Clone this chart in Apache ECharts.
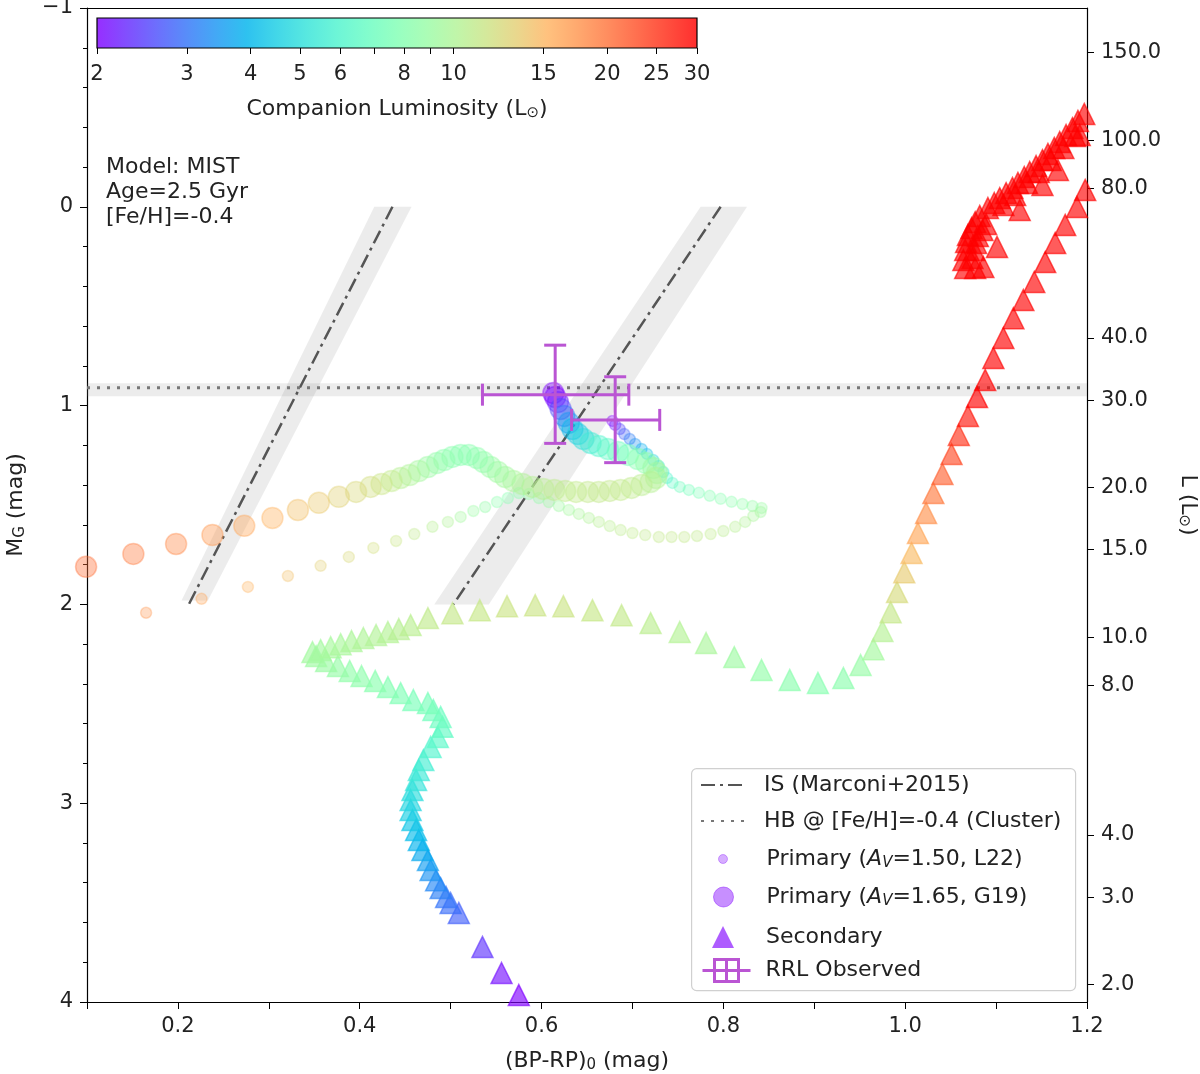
<!DOCTYPE html>
<html>
<head>
<meta charset="utf-8">
<script src="https://cdn.jsdelivr.net/npm/echarts@6/dist/echarts.min.js"></script>
<style>
  html, body { margin: 0; background: #fff; }
  #chart { width: 1200px; height: 1074px; }
</style>
</head>
<body>
<div id="chart"></div>
<script>
// colour bar / right axis ticks
const colorTicks = [2, 3, 4, 5, 6, 7, 8, 9, 10, 15, 20, 25, 30];
const colorLabels = [2, 3, 4, 5, 6, 8, 10, 15, 20, 25, 30];
const lumTicks = [150, 100, 80, 40, 30, 20, 15, 10, 8, 4, 3, 2];
const lumMin = 2, lumMax = 30;
const magZero = 4.665; // M_G = magZero - 2.5 log10(L)

// instability strip (Marconi+2015) and HB level
const isBlueEdge = [[0.436, 0.0], [0.212, 2.0]];
const isRedEdge = [[0.797, 0.0], [0.503, 2.0]];
const isBands = [
  [[0.416, 0.0], [0.457, 0.0], [0.233, 1.98], [0.204, 1.98]],
  [[0.775, 0.0], [0.826, 0.0], [0.542, 2.0], [0.482, 2.0]]
];
const hbMag = 0.91;
const hbBand = [0.888, 0.953];

// observed RR Lyrae: x, M, xlo, xhi, Mlo, Mhi
const rrlObserved = [
  [0.615, 0.945, 0.535, 0.696, 0.696, 1.190],
  [0.681, 1.072, 0.633, 0.730, 0.855, 1.287]
];

// primary, A_V=1.65 (G19): colour, M_G, companion L
const primaryG19 = [
  [0.613,0.937,2.0],[0.615,0.957,2.0],[0.618,0.982,2.2],[0.621,1.017,2.6],[0.625,1.052,3.0],
  [0.630,1.087,3.5],[0.634,1.118,4.0],[0.640,1.143,4.5],[0.646,1.168,5.0],[0.654,1.188,5.5],
  [0.663,1.203,6.0],[0.673,1.218,6.5],[0.684,1.233,7.0],[0.695,1.248,7.5],[0.706,1.269,8.0],
  [0.715,1.289,8.5],[0.723,1.314,9.0],[0.727,1.339,9.5],[0.726,1.364,10.0],[0.720,1.384,10.4],
  [0.710,1.399,10.7],[0.699,1.414,10.9],[0.687,1.424,11.0],[0.675,1.429,11.1],[0.663,1.434,11.1],
  [0.651,1.434,11.1],[0.638,1.434,11.0],[0.626,1.429,10.9],[0.614,1.424,10.8],[0.602,1.419,10.6],
  [0.590,1.409,10.4],[0.579,1.394,10.1],[0.569,1.379,9.8],[0.560,1.359,9.5],[0.552,1.334,9.2],
  [0.544,1.309,8.9],[0.536,1.284,8.6],[0.529,1.264,8.4],[0.520,1.248,8.2],[0.511,1.248,8.1],
  [0.502,1.258,8.2],[0.493,1.274,8.3],[0.485,1.289,8.6],[0.475,1.309,9.0],[0.465,1.329,9.5],
  [0.455,1.349,10.0],[0.445,1.364,10.4],[0.435,1.379,11.0],[0.424,1.394,11.5],[0.412,1.409,12.0],
  [0.396,1.434,12.5],[0.377,1.459,13.0],[0.355,1.489,13.6],[0.332,1.525,14.3],[0.304,1.565,15.2],
  [0.273,1.605,16.2],[0.238,1.651,17.3],[0.198,1.696,18.3],[0.151,1.746,19.2],[0.099,1.811,20.0]
];

// primary, A_V=1.50 (L22)
const primaryL22 = [
  [0.678,1.077,2.0],[0.681,1.097,2.2],[0.686,1.118,2.5],[0.691,1.143,2.8],[0.697,1.168,3.1],
  [0.703,1.193,3.4],[0.710,1.218,3.8],[0.716,1.243,4.2],[0.723,1.274,4.6],[0.729,1.304,5.0],
  [0.734,1.334,5.5],[0.738,1.364,6.0],[0.744,1.389,6.5],[0.752,1.409,7.0],[0.762,1.424,7.3],
  [0.773,1.439,7.6],[0.785,1.454,7.9],[0.797,1.469,8.1],[0.809,1.484,8.3],[0.821,1.495,8.5],
  [0.832,1.505,8.7],[0.842,1.515,8.9],[0.841,1.535,9.3],[0.833,1.555,9.7],[0.824,1.585,10.1],
  [0.813,1.610,10.4],[0.800,1.631,10.7],[0.786,1.646,10.9],[0.771,1.656,11.0],[0.757,1.661,11.1],
  [0.743,1.661,11.1],[0.729,1.661,11.1],[0.714,1.651,11.0],[0.700,1.641,10.9],[0.687,1.626,10.8],
  [0.675,1.606,10.6],[0.663,1.585,10.4],[0.652,1.565,10.1],[0.641,1.545,9.8],[0.630,1.525,9.5],
  [0.619,1.505,9.2],[0.608,1.485,8.9],[0.597,1.465,8.6],[0.586,1.445,8.4],[0.575,1.440,8.2],
  [0.563,1.465,8.1],[0.551,1.485,8.3],[0.538,1.510,8.6],[0.525,1.530,9.0],[0.511,1.560,9.5],
  [0.497,1.585,10.0],[0.480,1.610,10.4],[0.460,1.646,11.0],[0.440,1.681,11.5],[0.415,1.716,12.0],
  [0.388,1.761,12.5],[0.357,1.806,13.2],[0.321,1.857,14.3],[0.277,1.912,15.3],[0.226,1.972,16.3],
  [0.165,2.042,17.5]
];

// secondary track: colour, M_G
const secondary = [
  [0.575,3.965],[0.556,3.854],[0.535,3.723],[0.509,3.552],
  [0.500,3.502],[0.495,3.472],[0.489,3.427],[0.484,3.387],[0.478,3.336],[0.475,3.286],
  [0.469,3.235],[0.465,3.185],[0.462,3.135],[0.458,3.085],[0.456,3.034],[0.456,2.984],
  [0.458,2.934],[0.462,2.883],[0.465,2.833],[0.470,2.783],[0.478,2.717],[0.486,2.667],
  [0.491,2.616],[0.489,2.566],[0.481,2.531],[0.475,2.496],[0.459,2.481],[0.445,2.446],
  [0.431,2.416],[0.417,2.385],[0.402,2.360],[0.389,2.335],[0.376,2.310],[0.363,2.285],
  [0.352,2.260],[0.348,2.240],
  [0.357,2.230],[0.368,2.215],[0.379,2.200],[0.391,2.184],[0.404,2.169],[0.418,2.154],
  [0.431,2.139],[0.443,2.124],[0.456,2.104],[0.475,2.069],[0.502,2.044],[0.532,2.029],
  [0.562,2.009],[0.593,2.004],[0.624,2.009],[0.656,2.029],[0.688,2.054],[0.720,2.094],
  [0.752,2.139],[0.781,2.194],[0.812,2.265],[0.842,2.330],[0.873,2.380],[0.904,2.395],
  [0.932,2.370],[0.951,2.305],[0.965,2.225],[0.975,2.134],[0.984,2.039],[0.991,1.938],
  [0.999,1.838],[1.007,1.742],[1.014,1.641],[1.023,1.540],[1.031,1.440],[1.041,1.344],
  [1.051,1.244],[1.059,1.148],[1.069,1.052],[1.079,0.957],[1.088,0.871],[1.097,0.760],
  [1.108,0.660],[1.119,0.560],[1.130,0.469],[1.142,0.378],[1.154,0.278],[1.165,0.182],
  [1.176,0.091],[1.189,0.001],[1.198,-0.085],
  [1.192,-0.361],[1.168,-0.185],[1.151,-0.110],[1.126,0.016],[1.101,0.202],
  [1.066,0.308],[1.077,0.308],[1.086,0.303],[1.064,0.268],[1.074,0.258],[1.066,0.217],
  [1.076,0.217],[1.067,0.177],[1.078,0.182],[1.069,0.142],[1.080,0.147],[1.073,0.107],
  [1.085,0.117],[1.077,0.077],[1.089,0.087],[1.082,0.046],
  [1.091,0.006],[1.098,-0.019],[1.108,-0.009],[1.104,-0.044],[1.111,-0.069],[1.121,-0.059],
  [1.118,-0.095],[1.124,-0.120],[1.134,-0.120],[1.131,-0.150],[1.137,-0.175],[1.147,-0.175],
  [1.144,-0.205],[1.151,-0.235],[1.160,-0.235],[1.157,-0.266],[1.164,-0.296],[1.174,-0.296],
  [1.170,-0.326],[1.177,-0.361],[1.187,-0.356],[1.184,-0.396],[1.190,-0.432],[1.197,-0.467]
];

const FONT = 'DejaVu Sans';
const INK = '#222';

// matplotlib "rainbow" colormap on a log luminosity scale
function cmap(t, a) {
  t = Math.min(1, Math.max(0, t));
  const r = Math.min(1, Math.abs(2 * t - 0.5));
  const g = Math.sin(Math.PI * t);
  const b = Math.cos(Math.PI * t / 2);
  return 'rgba(' + Math.round(r * 255) + ',' + Math.round(g * 255) + ',' + Math.round(b * 255) + ',' + a + ')';
}
function lumT(L) {
  return (Math.log10(L) - Math.log10(lumMin)) / (Math.log10(lumMax) - Math.log10(lumMin));
}
function magOfLum(L) { return magZero - 2.5 * Math.log10(L); }
function lumOfMag(M) { return Math.pow(10, (magZero - M) / 2.5); }

function coloured(points, alpha, lumFn) {
  return points.map(function (p) {
    const c = cmap(lumT(lumFn(p)), alpha);
    return { value: [p[0], p[1]], itemStyle: { color: c, borderColor: c, borderWidth: 1.5 } };
  });
}

const barStops = [];
for (let i = 0; i <= 20; i++) barStops.push({ offset: i / 20, color: cmap(i / 20, 0.82) });

const rich = {
  n: { fontFamily: FONT, fontSize: 22, color: INK, lineHeight: 26 },
  i: { fontFamily: FONT, fontSize: 22, color: INK, fontStyle: 'italic', lineHeight: 26 },
  s: { fontFamily: FONT, fontSize: 15, color: INK, fontStyle: 'italic', padding: [9, 0, 0, 0], lineHeight: 26 },
  u: { fontFamily: FONT, fontSize: 15, color: INK, padding: [9, 0, 0, 0], lineHeight: 26 }
};

const legendText = {
  'IS (Marconi+2015)': '{n|IS (Marconi+2015)}',
  'HB @ [Fe/H]=-0.4 (Cluster)': '{n|HB @ [Fe/H]=-0.4 (Cluster)}',
  'Primary (AV=1.50, L22)': '{n|Primary (}{i|A}{s|V}{n|=1.50, L22)}',
  'Primary (AV=1.65, G19)': '{n|Primary (}{i|A}{s|V}{n|=1.65, G19)}',
  'Secondary': '{n|Secondary}',
  'RRL Observed': '{n|RRL Observed}'
};

function legendOf(item, left, top, w, h, padLeft) {
  return {
    data: [item], left: left, top: top, itemWidth: w, itemHeight: h, padding: 0,
    selectedMode: false, z: 6,
    formatter: function (name) { return legendText[name]; },
    textStyle: { fontFamily: FONT, fontSize: 22, color: INK, rich: rich, padding: [0, 0, 0, padLeft], lineHeight: 26 }
  };
}

const hiddenMarker = { color: 'rgba(0,0,0,0)', borderColor: 'rgba(0,0,0,0)', borderWidth: 0 };

const chart = echarts.init(document.getElementById('chart'), null, { renderer: 'canvas' });

const option = {
  animation: false,
  backgroundColor: '#fff',
  grid: [
    { left: 87, top: 8, width: 1000, height: 994, containLabel: false, outerBoundsMode: 'none' },
    {
      left: 97, top: 18, width: 600, height: 30, show: true, outerBoundsMode: 'none',
      borderColor: '#000', borderWidth: 1.2,
      backgroundColor: { type: 'linear', x: 0, y: 0, x2: 1, y2: 0, colorStops: barStops }
    }
  ],
  xAxis: [
    {
      gridIndex: 0, type: 'value', min: 0.1, max: 1.2, interval: 0.1, position: 'bottom',
      axisLine: { onZero: false, lineStyle: { color: '#000', width: 1.2 } },
      axisTick: { length: 7, lineStyle: { color: '#000' } },
      splitLine: { show: false },
      axisLabel: {
        margin: 14, fontFamily: FONT, fontSize: 21, color: INK,
        formatter: function (v) { const k = Math.round(v * 10); return (k % 2 === 0) ? (k / 10).toFixed(1) : ''; }
      },
      name: '(BP-RP){u|0} (mag)', nameLocation: 'middle', nameGap: 46,
      nameTextStyle: { fontFamily: FONT, fontSize: 22, color: INK, rich: rich }
    },
    {
      gridIndex: 0, type: 'value', min: 0.1, max: 1.2, position: 'top',
      axisLine: { onZero: false, lineStyle: { color: '#000', width: 1.2 } },
      axisTick: { show: false }, axisLabel: { show: false }, splitLine: { show: false }
    },
    {
      gridIndex: 1, type: 'value', min: Math.log10(lumMin), max: Math.log10(lumMax), position: 'bottom',
      axisLine: { show: false },
      axisTick: { show: true, length: 6, lineStyle: { color: '#000' }, customValues: colorTicks.map(Math.log10) },
      axisLabel: {
        margin: 16, fontFamily: FONT, fontSize: 21, color: INK,
        customValues: colorLabels.map(Math.log10),
        formatter: function (v) { return String(Math.round(Math.pow(10, v))); }
      },
      splitLine: { show: false },
      name: 'Companion Luminosity (L{u|\u2299})', nameLocation: 'middle', nameGap: 48,
      nameTextStyle: { fontFamily: FONT, fontSize: 22, color: INK, rich: rich }
    }
  ],
  yAxis: [
    {
      gridIndex: 0, type: 'value', min: -1, max: 4, interval: 1, inverse: true, position: 'left',
      axisLine: { show: true, onZero: false, lineStyle: { color: '#000', width: 1.2 } },
      axisTick: { show: true, length: 7, lineStyle: { color: '#000' } },
      minorTick: { show: true, splitNumber: 5, length: 4, lineStyle: { color: '#000' } },
      splitLine: { show: false },
      axisLabel: {
        margin: 14, fontFamily: FONT, fontSize: 21, color: INK,
        formatter: function (v) { return v < 0 ? '\u2212' + (-v) : String(v); }
      },
      name: 'M{u|G} (mag)', nameLocation: 'middle', nameRotate: 90, nameGap: 58,
      nameTextStyle: { fontFamily: FONT, fontSize: 22, color: INK, rich: rich }
    },
    {
      gridIndex: 0, type: 'value', min: -1, max: 4, inverse: true, position: 'right',
      axisLine: { show: true, onZero: false, lineStyle: { color: '#000', width: 1.2 } },
      axisTick: { show: true, length: 7, lineStyle: { color: '#000' }, customValues: lumTicks.map(magOfLum) },
      splitLine: { show: false },
      axisLabel: {
        margin: 14, fontFamily: FONT, fontSize: 21, color: INK,
        customValues: lumTicks.map(magOfLum),
        formatter: function (v) { return lumOfMag(v).toFixed(1); }
      },
      name: 'L (L{u|\u2299})', nameLocation: 'middle', nameRotate: -90, nameGap: 88,
      nameTextStyle: { fontFamily: FONT, fontSize: 22, color: INK, rich: rich }
    },
    { gridIndex: 1, type: 'value', min: 0, max: 1, show: false }
  ],
  legend: [
    legendOf({ name: 'IS (Marconi+2015)', itemStyle: hiddenMarker }, 700, 772, 45, 14, 13),
    legendOf({ name: 'HB @ [Fe/H]=-0.4 (Cluster)', itemStyle: hiddenMarker }, 700, 808, 45, 14, 13),
    legendOf({ name: 'Primary (AV=1.50, L22)', icon: 'circle',
      itemStyle: { color: 'rgba(128,0,255,0.4)', borderColor: 'rgba(128,0,255,0.4)', borderWidth: 1 } }, 718, 846, 9, 9, 34),
    legendOf({ name: 'Primary (AV=1.65, G19)', icon: 'circle',
      itemStyle: { color: 'rgba(128,0,255,0.55)', borderColor: 'rgba(128,0,255,0.55)', borderWidth: 1 } }, 713, 884, 20, 20, 28),
    legendOf({ name: 'Secondary', icon: 'triangle',
      itemStyle: { color: 'rgba(128,0,255,0.8)' } }, 712, 924, 22, 22, 27),
    legendOf({ name: 'RRL Observed',
      icon: 'path://M0,12H48M12,1H36V23H12ZM24,1V23',
      itemStyle: { color: 'none', borderColor: '#ba55d3', borderWidth: 3 } }, 700, 957, 48, 24, 10)
  ],
  graphic: [
    {
      type: 'rect', left: 691, top: 768, z: 5,
      shape: { width: 384, height: 222, r: 5 },
      style: { fill: 'rgba(255,255,255,0.85)', stroke: '#d0d0d0', lineWidth: 1.2 }
    },
    {
      type: 'text', left: 106, top: 155, z: 5,
      style: {
        text: 'Model: MIST\nAge=2.5 Gyr\n[Fe/H]=-0.4',
        font: '22px "DejaVu Sans"', lineHeight: 25, fill: INK
      }
    }
  ],
  series: [
    {
      type: 'custom', name: 'IS band', xAxisIndex: 0, yAxisIndex: 0, silent: true, z: 1,
      data: isBands.map(function (b) { return b[0]; }),
      renderItem: function (params, api) {
        const poly = isBands[params.dataIndex];
        return {
          type: 'polygon',
          shape: { points: poly.map(function (p) { return api.coord(p); }) },
          style: { fill: 'rgba(128,128,128,0.15)' }
        };
      }
    },
    {
      type: 'line', name: 'IS (Marconi+2015)', xAxisIndex: 0, yAxisIndex: 0, data: isBlueEdge,
      symbol: 'none', silent: true, z: 2,
      lineStyle: { color: '#555', width: 2.5, type: [14, 5, 3, 5] }
    },
    {
      type: 'line', name: 'IS (Marconi+2015)', xAxisIndex: 0, yAxisIndex: 0, data: isRedEdge,
      symbol: 'none', silent: true, z: 2,
      lineStyle: { color: '#555', width: 2.5, type: [14, 5, 3, 5] }
    },
    {
      type: 'line', name: 'HB @ [Fe/H]=-0.4 (Cluster)', xAxisIndex: 0, yAxisIndex: 0,
      data: [[0.1, hbMag], [1.2, hbMag]],
      symbol: 'none', silent: true, z: 2,
      lineStyle: { color: '#777', width: 3, type: [3, 7] },
      markArea: {
        silent: true,
        itemStyle: { color: 'rgba(128,128,128,0.15)' },
        data: [[{ yAxis: hbBand[0] }, { yAxis: hbBand[1] }]]
      }
    },
    {
      type: 'scatter', name: 'Primary (AV=1.50, L22)', xAxisIndex: 0, yAxisIndex: 0,
      symbol: 'circle', symbolSize: 11, clip: false, z: 3,
      data: coloured(primaryL22, 0.4, function (p) { return p[2]; })
    },
    {
      type: 'scatter', name: 'Primary (AV=1.65, G19)', xAxisIndex: 0, yAxisIndex: 0,
      symbol: 'circle', symbolSize: 21, clip: false, z: 3,
      data: coloured(primaryG19, 0.5, function (p) { return p[2]; })
    },
    {
      type: 'scatter', name: 'Secondary', xAxisIndex: 0, yAxisIndex: 0,
      symbol: 'triangle', symbolSize: 21, z: 4,
      data: coloured(secondary, 0.8, function (p) { return lumOfMag(p[1]); })
    },
    {
      type: 'custom', name: 'RRL Observed', xAxisIndex: 0, yAxisIndex: 0, z: 7,
      encode: { x: 0, y: 1 },
      data: rrlObserved,
      renderItem: function (params, api) {
        const l = api.coord([api.value(2), api.value(1)]);
        const r = api.coord([api.value(3), api.value(1)]);
        const t = api.coord([api.value(0), api.value(4)]);
        const b = api.coord([api.value(0), api.value(5)]);
        const cap = 11;
        const st = { stroke: '#ba55d3', lineWidth: 3 };
        return {
          type: 'group',
          children: [
            { type: 'line', shape: { x1: l[0], y1: l[1], x2: r[0], y2: r[1] }, style: st },
            { type: 'line', shape: { x1: t[0], y1: t[1], x2: b[0], y2: b[1] }, style: st },
            { type: 'line', shape: { x1: l[0], y1: l[1] - cap, x2: l[0], y2: l[1] + cap }, style: st },
            { type: 'line', shape: { x1: r[0], y1: r[1] - cap, x2: r[0], y2: r[1] + cap }, style: st },
            { type: 'line', shape: { x1: t[0] - cap, y1: t[1], x2: t[0] + cap, y2: t[1] }, style: st },
            { type: 'line', shape: { x1: b[0] - cap, y1: b[1], x2: b[0] + cap, y2: b[1] }, style: st }
          ]
        };
      }
    }
  ]
};

chart.setOption(option);
</script>
</body>
</html>
